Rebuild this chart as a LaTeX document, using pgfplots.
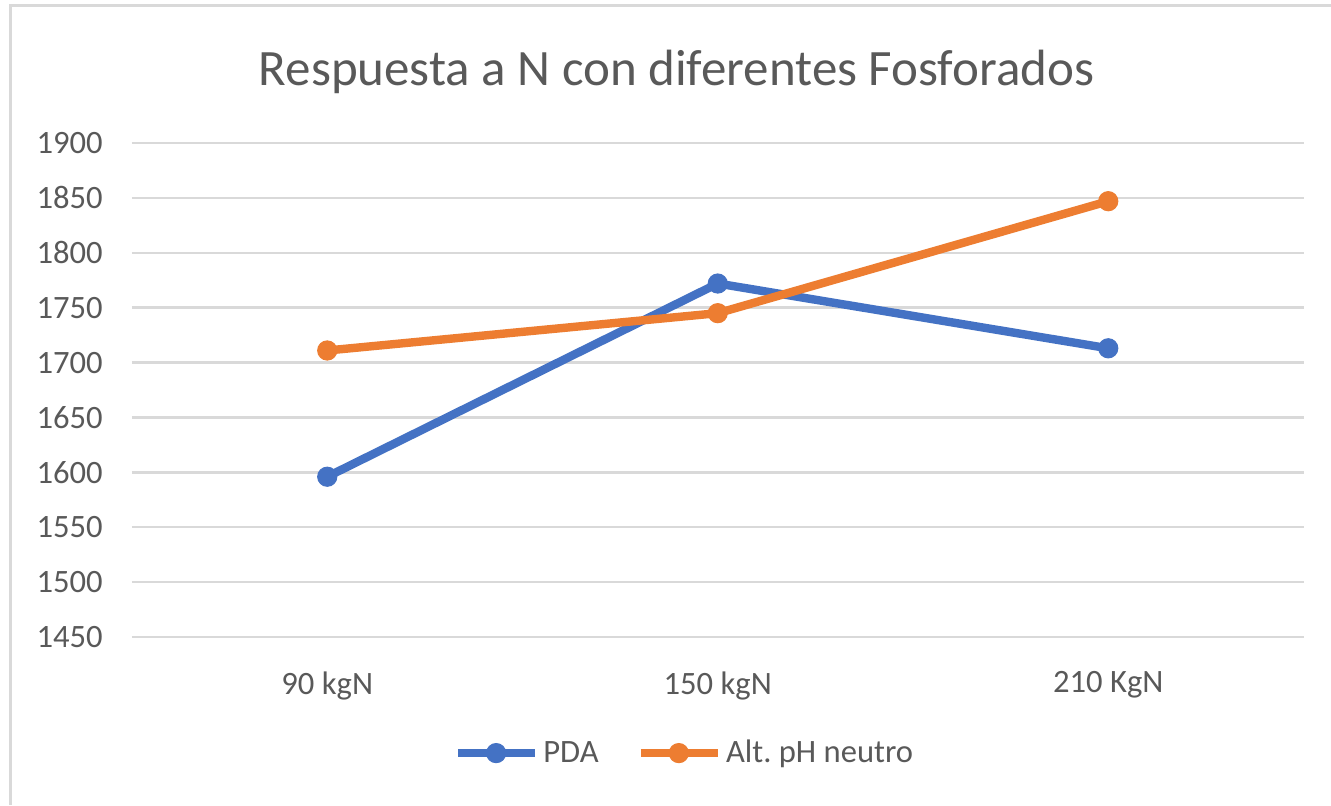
\documentclass[border=0pt]{standalone}
\usepackage{fontspec}
\setmainfont{Carlito}
\usepackage{pgfplots}
\pgfplotsset{compat=1.18}
\definecolor{pdablue}{HTML}{4472C4}
\definecolor{altorange}{HTML}{ED7D31}
\definecolor{gridgray}{HTML}{D9D9D9}
\definecolor{txtgray}{HTML}{595959}
\frenchspacing
\begin{document}
\begin{tikzpicture}
% canvas: 1331 x 805 px at 0.5pt per px
\useasboundingbox (0,0) rectangle (665.5pt,402.5pt);
\fill[white] (0,0) rectangle (665.5pt,402.5pt);
\draw[gridgray, line width=1.5pt] (5pt,0) -- (5pt,399.5pt) -- (665.5pt,399.5pt);
\node[anchor=base, text=txtgray, font=\fontsize{25.5}{30}\selectfont] at (338.25pt,359.5pt)
  {Respuesta a N con diferentes Fosforados};
\begin{axis}[
    at={(66pt,84pt)}, anchor=south west,
    scale only axis,
    width=585.75pt, height=247pt,
    xmin=-0.5, xmax=2.5,
    ymin=1450, ymax=1900,
    xtick={0,1,2},
    xticklabels={90 kgN, 150 kgN, 210 KgN},
    ytick={1450,1500,...,1900},
    axis line style={draw=none},
    major tick length=0pt,
    ymajorgrids,
    grid style={gridgray, line width=1.2pt},
    tick label style={font=\fontsize{16.3}{19}\selectfont, text=txtgray},
    /pgf/number format/assume math mode=true,
    /pgf/number format/1000 sep={},
    yticklabel style={anchor=east, inner sep=0pt, xshift=-14.5pt},
    xticklabel style={anchor=north, inner sep=0pt, yshift=-17pt},
    legend columns=-1,
    legend style={at={(0.4725,-0.235)}, anchor=center, draw=none, fill=none,
                  font=\fontsize{16.3}{19}\selectfont, text=txtgray,
                  nodes={inner xsep=2pt},
                  /tikz/every even column/.append style={column sep=17pt}},
    legend image code/.code={
        \draw[mark repeat=2, mark phase=2] plot coordinates {(0pt,0pt) (19pt,0pt) (38.5pt,0pt)};},
    every axis plot/.append style={line width=4.2pt},
]
% PDA
\addplot[color=pdablue, mark=*, mark size=4.8pt,
         mark options={fill=pdablue, line width=0.5pt}] coordinates {
    (0, 1596)
    (1, 1772)
    (2, 1713)
};
\addlegendentry{PDA}
% Alt. pH neutro
\addplot[color=altorange, mark=*, mark size=4.8pt,
         mark options={fill=altorange, line width=0.5pt}] coordinates {
    (0, 1711)
    (1, 1745)
    (2, 1847)
};
\addlegendentry{Alt. pH neutro}
\end{axis}
\end{tikzpicture}
\end{document}
